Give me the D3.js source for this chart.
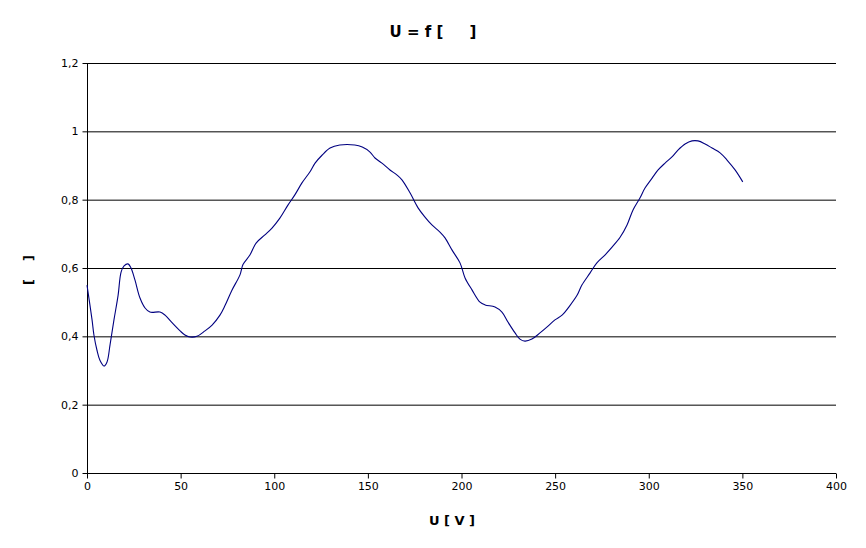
<!DOCTYPE html>
<html><head><meta charset="utf-8">
<script src="https://cdn.jsdelivr.net/npm/d3@7"></script>
<style>body{margin:0;background:#fff}svg{display:block;font-family:"DejaVu Sans",sans-serif}</style>
</head><body><svg id="c" width="866" height="548"></svg>
<script>
const titleText = "U = f [     ]";
const xLabel = "U [ V ]";
const yLabel = "[    ]";
const xTicks = [0,50,100,150,200,250,300,350,400];
const yTicks = [0,0.2,0.4,0.6,0.8,1,1.2];
const xs = [0,2.7,3.7,5.3,6.9,9.1,10.7,12.3,14.4,16.6,18.2,19.8,21.9,23.5,25.6,28.3,31,33.6,39,41.7,45.4,49.7,52.3,55,58.7,63,66.8,71,73.7,77.4,81.7,83.3,87,90.3,95,98.8,103,107.3,111,114.8,119,121.8,125.5,129.8,135,143,147,151,153.8,157.5,161.8,165.6,168.2,172.5,176.8,180.5,184.2,188.5,191.2,194.9,199.2,201.9,205.6,209.9,212.6,217.9,221.6,224.8,228.6,231.2,233.9,237.6,241.9,246.2,249.9,253.7,257.9,261.7,264.3,268.6,272.3,276.6,280.4,284.7,288.4,291.6,295.3,298,301.8,305,308.7,312.4,315.6,319.4,323.1,326.3,330.1,333.8,338.1,341.8,346.1,350.2];
const ys = [0.55,0.448,0.404,0.36,0.33,0.313,0.325,0.375,0.448,0.52,0.588,0.606,0.612,0.60,0.565,0.512,0.483,0.471,0.471,0.462,0.44,0.416,0.404,0.398,0.40,0.416,0.433,0.462,0.49,0.535,0.58,0.61,0.638,0.673,0.697,0.717,0.746,0.784,0.814,0.849,0.881,0.907,0.93,0.951,0.96,0.96,0.954,0.94,0.922,0.907,0.887,0.872,0.858,0.82,0.776,0.749,0.726,0.705,0.688,0.653,0.615,0.571,0.536,0.50,0.492,0.486,0.471,0.442,0.41,0.392,0.386,0.392,0.41,0.43,0.448,0.462,0.49,0.52,0.55,0.585,0.615,0.638,0.661,0.69,0.726,0.77,0.805,0.834,0.863,0.887,0.907,0.925,0.945,0.963,0.972,0.972,0.963,0.951,0.937,0.916,0.887,0.852];

const svg = d3.select("#c");
const x = d3.scaleLinear().domain([0,400]).range([87,836]);
const y = d3.scaleLinear().domain([0,1.2]).range([473,63]);
const fmt = d => String(d).replace(".", ",");

svg.append("g").selectAll("line").data(yTicks.filter(d=>d>0)).join("line")
  .attr("x1",87).attr("x2",836).attr("y1",d=>y(d)+0.5).attr("y2",d=>y(d)+0.5)
  .attr("stroke","#000").attr("stroke-width",1);

const gx = svg.append("g").attr("transform","translate(0,473.5)")
  .call(d3.axisBottom(x).tickValues(xTicks).tickSize(5).tickPadding(4).tickFormat(fmt));
const gy = svg.append("g").attr("transform","translate(87.5,0)")
  .call(d3.axisLeft(y).tickValues(yTicks).tickSize(5).tickPadding(4).tickFormat(fmt));
[gx,gy].forEach(g=>{
  g.selectAll("text").attr("font-family","DejaVu Sans").attr("font-size",11).attr("fill","#000");
  g.select(".domain").attr("stroke","#000");
  g.selectAll(".tick line").attr("stroke","#000");
});
gy.select(".domain").attr("d","M0,"+y(0)+"V"+y(1.2));
gx.select(".domain").attr("d","M"+x(0)+",0H"+x(400));

const data = xs.map((v,i)=>[v,ys[i]]);
svg.append("path").datum(data)
  .attr("d", d3.line().x(d=>x(d[0])).y(d=>y(d[1])).curve(d3.curveCatmullRom))
  .attr("fill","none").attr("stroke","#000080").attr("stroke-width",1.1);

svg.append("text").attr("x",433).attr("y",37).attr("text-anchor","middle")
  .attr("font-size",15).attr("font-weight","bold").text(titleText).style("white-space","pre");
svg.append("text").attr("x",452).attr("y",525).attr("text-anchor","middle")
  .attr("font-size",13).attr("font-weight","bold").text(xLabel);
svg.append("text").attr("transform","translate(33,270) rotate(-90)").attr("text-anchor","middle")
  .attr("font-size",13).attr("font-weight","bold").text(yLabel).style("white-space","pre");
</script></body></html>
